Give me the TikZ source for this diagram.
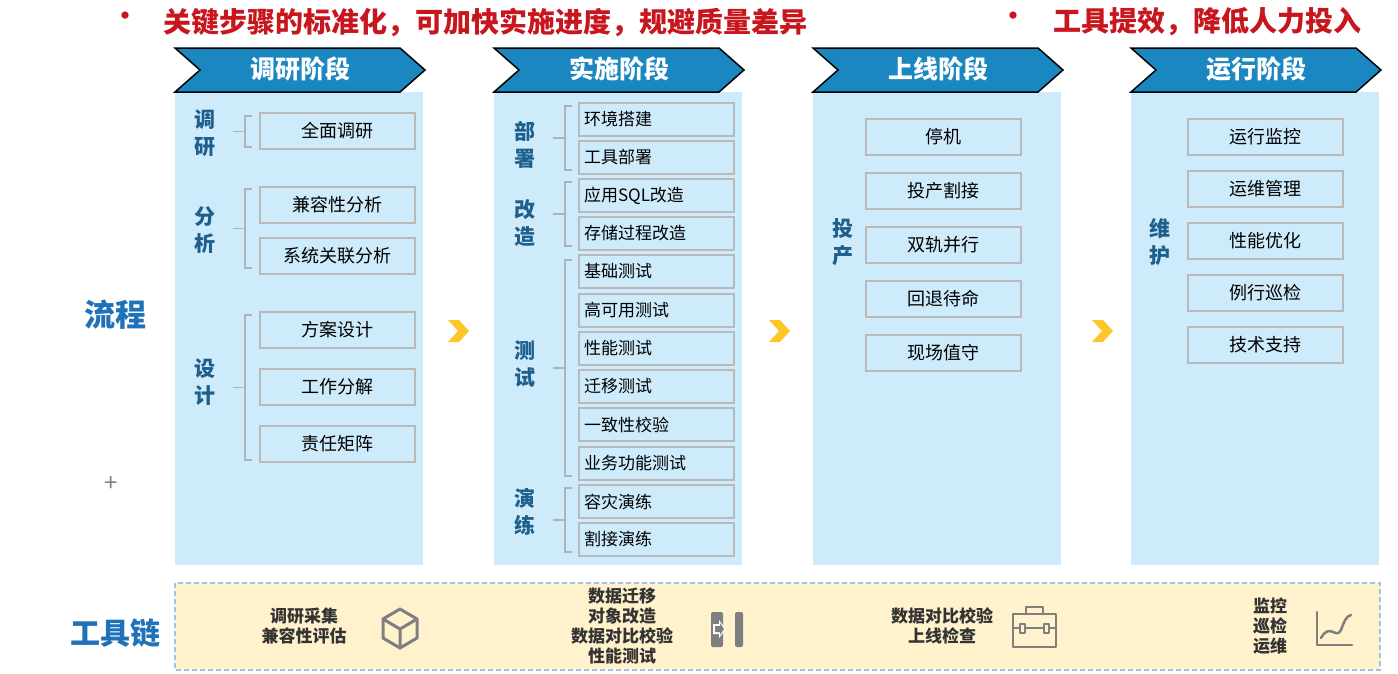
\documentclass[tikz,border=0pt]{standalone}
\usepackage{fontspec}
\setmainfont{Noto Sans CJK SC}
\usetikzlibrary{shapes.geometric}
\definecolor{hdr}{HTML}{1B87C1}
\definecolor{body}{HTML}{CDEBFB}
\definecolor{lbl}{HTML}{1F5F8B}
\definecolor{redt}{HTML}{C8161E}
\definecolor{bluet}{HTML}{1F72B8}
\definecolor{gold}{HTML}{FFC629}
\definecolor{toolbg}{HTML}{FFF2CC}
\definecolor{toolbd}{HTML}{9DC3E6}
\definecolor{ico}{HTML}{7F7F7F}
\tikzset{
 itembox/.style={draw=gray!55,line width=1.5pt,fill=body,minimum width=155pt,minimum height=#1,font=\fontsize{18}{20}\selectfont,inner sep=0pt},
 itembox/.default=36pt,
 sidelbl/.style={font=\fontsize{21}{27}\selectfont\bfseries,text=lbl,align=center},
 brk/.style={draw=gray!60,line width=1.5pt},
 tooltxt/.style={font=\fontsize{17}{20}\selectfont\bfseries,text=black!80,align=center},
 icon/.style={draw=ico,line width=3pt,line join=round,line cap=round},
 gch/.style={fill=gold}
}
\newcommand{\mybrk}[3]{\draw[brk] (#1+7,#2) -- (#1,#2) -- (#1,#3) -- (#1+7,#3); \draw[brk] (#1-12,{(#2+#3)/2}) -- (#1,{(#2+#3)/2});}
\newcommand{\mychev}[4]{% name, x left, x right, text
 \fill[hdr,draw=black,line width=1.5pt] (#2,48) -- (#3-25,48) -- (#3,70) -- (#3-25,92) -- (#2,92) -- (#2+25,70) -- cycle;
 \node[font=\fontsize{25}{28}\selectfont\bfseries,text=white] (#1) at ({(#2+#3)/2},69) {#4};}
\newcommand{\mygold}[3]{\fill[gold] (#2-9,#3-11) -- (#2+2,#3-11) -- (#2+12,#3) -- (#2+2,#3+11) -- (#2-9,#3+11) -- (#2+1,#3) -- cycle; \coordinate (#1) at (#2,#3);}
\begin{document}
\begin{tikzpicture}[x=1pt,y=-1pt]
\useasboundingbox (0,0) rectangle (1398,673);
% top
\node[text=redt,font=\fontsize{34}{36}\selectfont] (b1) at (125,20) {•};
\node[text=redt,font=\fontsize{28}{32}\selectfont\bfseries,anchor=west] (t1) at (160,22) {关键步骤的标准化，可加快实施进度，规避质量差异};
\node[text=redt,font=\fontsize{34}{36}\selectfont] (b2) at (1013,20) {•};
\node[text=redt,font=\fontsize{28}{32}\selectfont\bfseries,anchor=west] (t2) at (1050,22) {工具提效，降低人力投入};
% bodies
\fill[body] (175,92) rectangle (423,565);
\fill[body] (494,92) rectangle (742,565);
\fill[body] (813,92) rectangle (1061,565);
\fill[body] (1131,92) rectangle (1379,565);
\mychev{h1}{175}{425}{调研阶段}
\mychev{h2}{494}{744}{实施阶段}
\mychev{h3}{813}{1063}{上线阶段}
\mychev{h4}{1131}{1381}{运行阶段}
% left labels
\node[font=\fontsize{31}{34}\selectfont\bfseries,text=bluet] (lc) at (115,315) {流程};
\node[font=\fontsize{24}{26}\selectfont,text=gray] (plus) at (111,484) {+};
\node[font=\fontsize{30}{34}\selectfont\bfseries,text=bluet] (tc) at (115,633) {工具链};
% column 1
\node[sidelbl] (l11) at (205,133) {调\\研};
\node[sidelbl] (l12) at (205,230) {分\\析};
\node[sidelbl] (l13) at (205,382) {设\\计};
\foreach \n/\y/\t in {a1/131/全面调研,a2/205/兼容性分析,a3/256/系统关联分析,a4/330/方案设计,a5/387/工作分解,a6/444/责任矩阵}
  \node[itembox] (\n) at (337.5,\y) {\t};
\mybrk{245}{116}{147}
\mybrk{245}{189}{268}
\mybrk{245}{315}{460}
% column 2
\node[sidelbl] (l21) at (525,145) {部\\署};
\node[sidelbl] (l22) at (525,223) {改\\造};
\node[sidelbl] (l23) at (525,364) {测\\试};
\node[sidelbl] (l24) at (525,512) {演\\练};
\foreach \n/\y/\t in {b1/119.5/环境搭建,b2/157.5/工具部署,b3/195.5/应用SQL改造,b4/233.5/存储过程改造,b5/271.5/基础测试,b6/310.5/高可用测试,b7/348.5/性能测试,b8/386.5/迁移测试,b9/424.5/一致性校验,b10/463.5/业务功能测试,b11/501.5/容灾演练,b12/539.5/割接演练}
  \node[itembox=33pt,text width=145pt,align=left,font=\fontsize{17}{19}\selectfont] (c\n) at (656.5,\y) {\t};
\mybrk{565}{106}{170}
\mybrk{565}{182}{246}
\mybrk{565}{260}{476}
\mybrk{565}{488}{552}
% column 3
\node[sidelbl] (l31) at (843,242) {投\\产};
\foreach \n/\y/\t in {d1/137/停机,d2/191/投产割接,d3/245/双轨并行,d4/299/回退待命,d5/353/现场值守}
  \node[itembox] (\n) at (943.5,\y) {\t};
% column 4
\node[sidelbl] (l41) at (1160,242) {维\\护};
\foreach \n/\y/\t in {e1/137/运行监控,e2/189/运维管理,e3/241/性能优化,e4/293/例行巡检,e5/345/技术支持}
  \node[itembox] (\n) at (1265.5,\y) {\t};
% gold arrows
\mygold{g1}{457}{331}
\mygold{g2}{778}{331}
\mygold{g3}{1101}{331}
% tools
\draw[fill=toolbg,draw=toolbd,line width=1.5pt,dash pattern=on 5pt off 3pt] (175,583) rectangle (1380,670);
\node[tooltxt] (k1) at (304,626) {调研采集\\兼容性评估};
\node[tooltxt] (k2) at (622,626) {数据迁移\\对象改造\\数据对比校验\\性能测试};
\node[tooltxt] (k3) at (942,626) {数据对比校验\\上线检查};
\node[tooltxt] (k4) at (1270,626) {监控\\巡检\\运维};
% cube icon
\draw[icon] (400,609) -- (417,619) -- (417,638) -- (400,648) -- (383,638) -- (383,619) -- cycle;
\draw[icon] (383,619) -- (400,629) -- (417,619) (400,629) -- (400,648);
% door icon
\fill[ico,rounded corners=2pt] (711,612) rectangle (723,647);
\fill[ico,rounded corners=2pt] (735,612) rectangle (743,647);
\fill[white] (713,624) -- (719,624) -- (719,620) -- (726,629) -- (719,638) -- (719,634) -- (713,634) -- cycle;
\fill[ico] (715,626) -- (720,626) -- (720,623) -- (724,629) -- (720,635) -- (720,632) -- (715,632) -- cycle;
% toolbox icon
\draw[icon,line width=2.5pt] (1013,614) rectangle (1056,647);
\draw[icon,line width=2.5pt] (1026,614) -- (1026,607) -- (1043,607) -- (1043,614);
\draw[icon,line width=2.5pt] (1013,628) -- (1056,628);
\draw[icon,line width=2pt,fill=toolbg] (1020,624) rectangle (1025,633);
\draw[icon,line width=2pt,fill=toolbg] (1044,624) rectangle (1049,633);
% chart icon
\draw[icon,line width=2.5pt] (1317,612) -- (1317,645) -- (1352,645);
\draw[icon,line width=2.5pt] (1321,638) .. controls (1330,622) and (1336,640) .. (1341,630) .. controls (1344,622) and (1346,616) .. (1351,615);
\end{tikzpicture}
\end{document}
